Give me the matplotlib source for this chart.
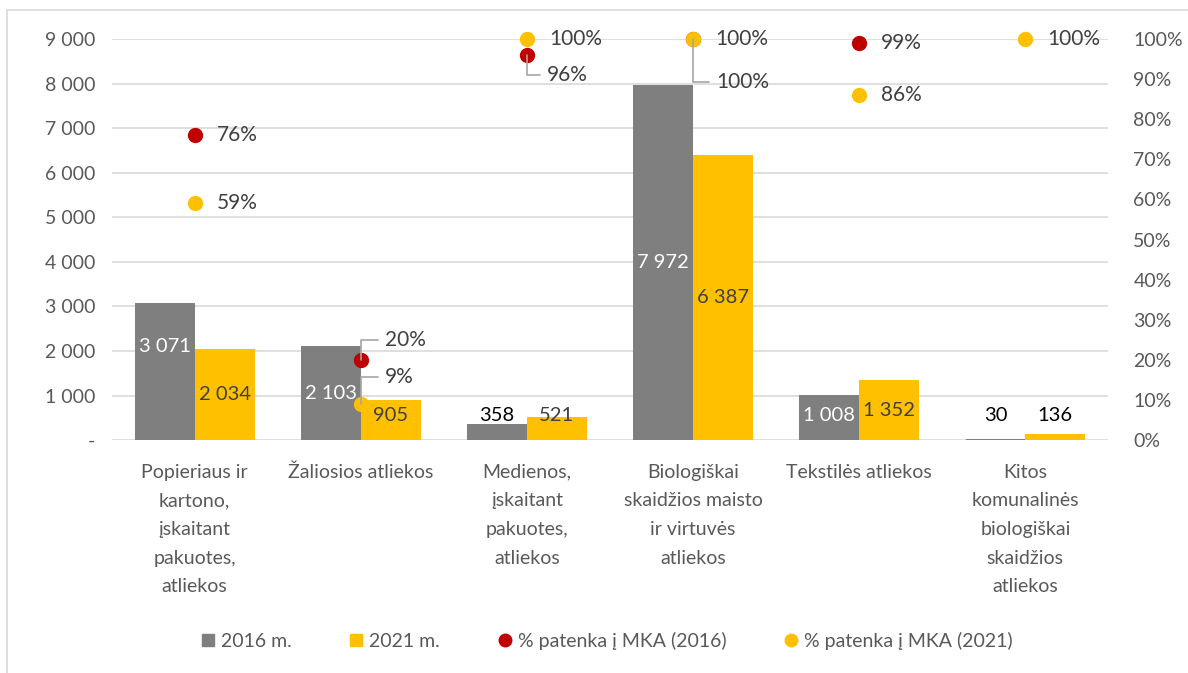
import numpy as np
import matplotlib.pyplot as plt
from matplotlib.lines import Line2D
from matplotlib.patches import Rectangle

plt.rcParams['font.family'] = ['Lato', 'DejaVu Sans']

categories = [
    'Popieriaus ir\nkartono,\nįskaitant\npakuotes,\natliekos',
    'Žaliosios atliekos',
    'Medienos,\nįskaitant\npakuotes,\natliekos',
    'Biologiškai\nskaidžios maisto\nir virtuvės\natliekos',
    'Tekstilės atliekos',
    'Kitos\nkomunalinės\nbiologiškai\nskaidžios\natliekos',
]
vals_2016 = [3071, 2103, 358, 7972, 1008, 30]
vals_2021 = [2034, 905, 521, 6387, 1352, 136]
pct_2016 = [76, 20, 96, 100, 99, np.nan]
pct_2021 = [59, 9, 100, 100, 86, 100]

GRAY = '#7f7f7f'
YELLOW = '#ffc000'
RED = '#c00000'
TXT = '#595959'
DARK = '#404040'

fig = plt.figure(figsize=(11.88, 6.73), dpi=100)
ax = fig.add_axes([0.094, 0.346, 0.839, 0.596])
ax2 = ax.twinx()

x = np.arange(len(categories))
w = 0.36
ax.bar(x - w / 2, vals_2016, w, color=GRAY, zorder=2)
ax.bar(x + w / 2, vals_2021, w, color=YELLOW, zorder=2)

ax.set_ylim(0, 9000)
ax.set_xlim(-0.5, len(categories) - 0.5)
ax.set_yticks(range(0, 9001, 1000))
ax.set_yticklabels(['-'] + [f'{v:,}'.replace(',', ' ') for v in range(1000, 9001, 1000)])
ax.grid(axis='y', color='#d9d9d9', linewidth=1.2, zorder=0)
ax.set_axisbelow(True)
ax.set_xticks(x)
ax.set_xticklabels(categories, fontsize=14, color=TXT, va='top', linespacing=1.83)
ax.tick_params(axis='both', length=0, labelsize=14, labelcolor=TXT)
ax.tick_params(axis='x', pad=17)
ax.tick_params(axis='y', pad=12)
for s in ax.spines.values():
    s.set_visible(False)


def fmt(v):
    return f'{v:,}'.replace(',', ' ')


# bar value labels
for i, v in enumerate(vals_2016):
    y = max(v / 2, 560)
    if i == 0:
        y = 2090
    col = 'white' if v > 600 else 'black'
    ax.text(x[i] - w / 2, y, fmt(v), ha='center', va='center', fontsize=14.5, color=col, zorder=3)
for i, v in enumerate(vals_2021):
    y = max(v / 2, 560)
    col = DARK if v > 300 else 'black'
    ax.text(x[i] + w / 2, y, fmt(v), ha='center', va='center', fontsize=14.5, color=col, zorder=3)

# percent dots on the right axis
ax2.set_ylim(0, 100)
ax2.set_yticks(range(0, 101, 10))
ax2.set_yticklabels([f'{v}%' for v in range(0, 101, 10)])
ax2.tick_params(axis='y', length=0, labelsize=14, labelcolor=TXT, pad=18)
for s in ax2.spines.values():
    s.set_visible(False)

ax2.plot(x, pct_2016, 'o', color=RED, markersize=10, linestyle='none', zorder=4, clip_on=False)
ax2.plot(x, pct_2021, 'o', color=YELLOW, markersize=10, linestyle='none', zorder=5, clip_on=False)

# label offsets in pixels (None = plain label to the right)
off_2016 = [None, (24, 20), (20, -20), (23, -43), None, None]
off_2021 = [None, (24, 27), None, None, None, None]


def pct_label(i, p, off):
    if np.isnan(p):
        return
    if off is None:
        ax2.annotate(f'{p:.0f}%', (x[i], p), xytext=(22, 0), textcoords='offset pixels',
                     ha='left', va='center', fontsize=15, color=DARK, zorder=6)
    else:
        ax2.annotate(f'{p:.0f}%', (x[i], p), xytext=off, textcoords='offset pixels',
                     ha='left', va='center', fontsize=15, color=DARK, zorder=6,
                     arrowprops=dict(arrowstyle='-', color='#a6a6a6', lw=1.2,
                                     connectionstyle='angle,angleA=0,angleB=90',
                                     shrinkA=3, shrinkB=0))


for i, p in enumerate(pct_2016):
    pct_label(i, p, off_2016[i])
for i, p in enumerate(pct_2021):
    pct_label(i, p, off_2021[i])

handles = [
    Line2D([], [], marker='s', color=GRAY, linestyle='none', markersize=9),
    Line2D([], [], marker='s', color=YELLOW, linestyle='none', markersize=9),
    Line2D([], [], marker='o', color=RED, linestyle='none', markersize=9),
    Line2D([], [], marker='o', color=YELLOW, linestyle='none', markersize=9),
]
labels = ['2016 m.', '2021 m.', '% patenka į MKA (2016)', '% patenka į MKA (2021)']
leg = fig.legend(handles, labels, loc='center', bbox_to_anchor=(0.51, 0.048), ncol=4,
                 frameon=False, fontsize=14, handletextpad=0.2, columnspacing=2.9,
                 handlelength=0.9)
for t in leg.get_texts():
    t.set_color(TXT)

# chart border
fig.patches.append(Rectangle((0.006, -0.01), 1.2, 0.995, transform=fig.transFigure,
                             fill=False, edgecolor='#d9d9d9', linewidth=1.2))

fig.savefig('out.png', dpi=100)
